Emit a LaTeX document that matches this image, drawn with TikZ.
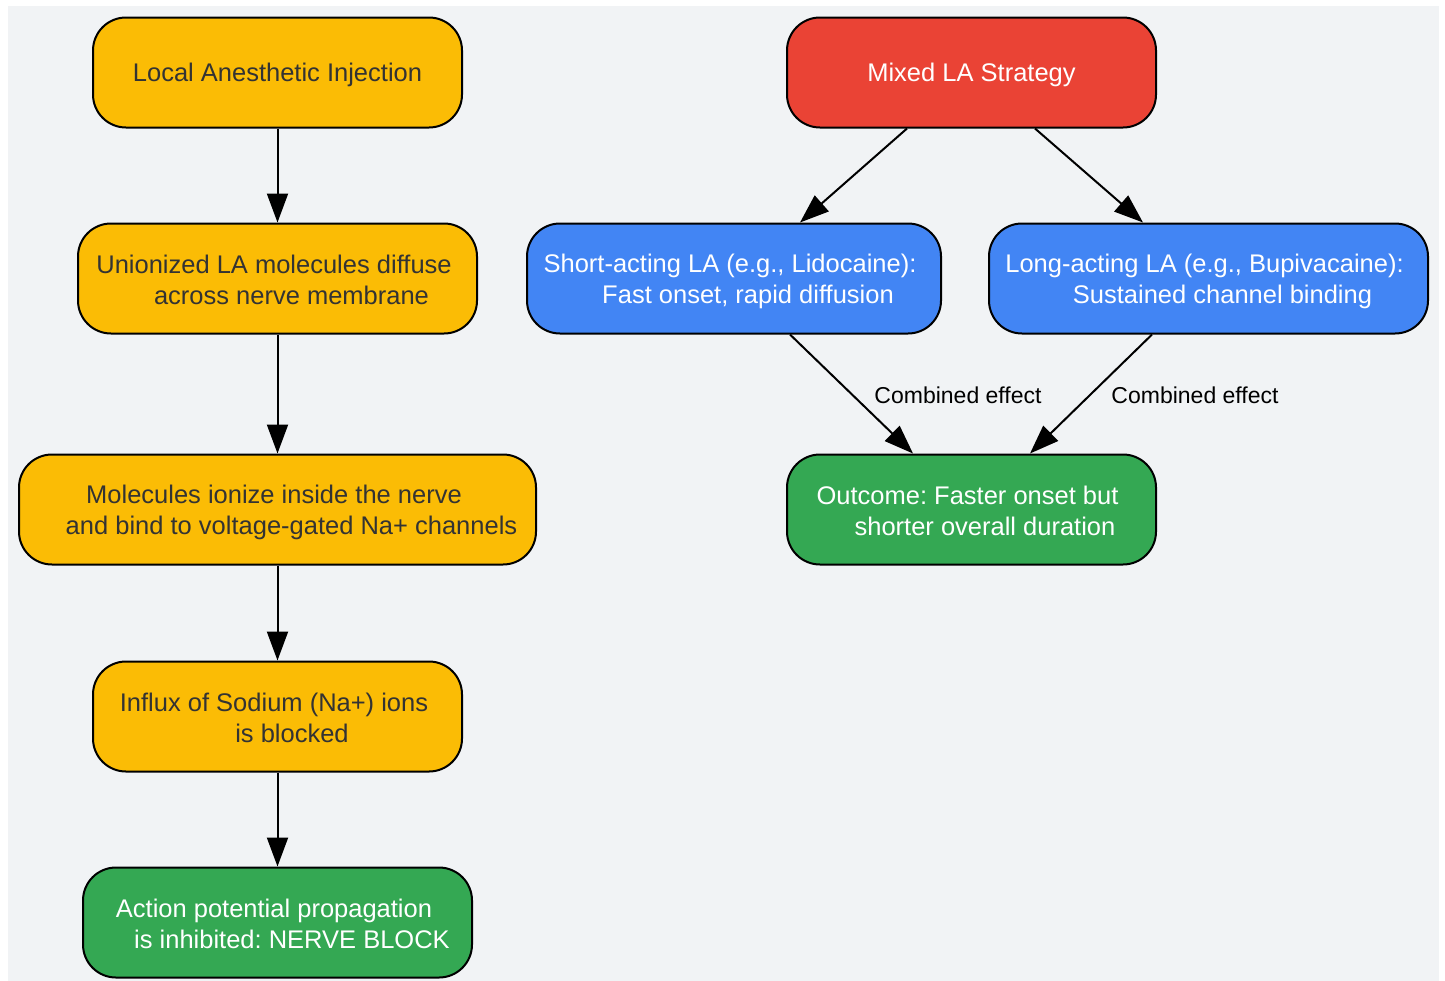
\documentclass[tikz,border=0pt]{standalone}
\usepackage{fontspec}
\setmainfont{Liberation Sans}
\frenchspacing
\usetikzlibrary{arrows.meta}
\definecolor{bgc}{RGB}{241,243,245}
\definecolor{yel}{HTML}{FBBC05}
\definecolor{redc}{HTML}{EA4335}
\definecolor{bluec}{HTML}{4285F4}
\definecolor{greenc}{HTML}{34A853}
\definecolor{tdark}{HTML}{333333}
\newcommand{\lineat}[2]{\makebox[0pt]{\hspace*{#1}\rule[-5pt]{0pt}{30pt}#2}}
\newcommand{\oneline}[1]{\rule[-8pt]{0pt}{33pt}#1}
\begin{document}
\begin{tikzpicture}[x=1pt,y=-1pt,
  box/.style={draw=black, line width=2pt, rounded corners=33pt, minimum height=110pt, inner sep=0pt, align=center, font=\fontsize{25.5}{31}\selectfont},
  ybox/.style={box, fill=yel, text=tdark},
  rbox/.style={box, fill=redc, text=white},
  bbox/.style={box, fill=bluec, text=white},
  gbox/.style={box, fill=greenc, text=white},
  arr/.style={-{Triangle[length=29pt,width=21pt]}, line width=2pt},
  lab/.style={font=\fontsize{23}{27}\selectfont, text=black, inner sep=0pt}
]
\useasboundingbox (0,0) rectangle (1445,980);
\fill[bgc] (8,6) rectangle (1439,985);

% left column
\node[ybox, minimum width=369pt] (inj) at (277.5,72.5) {\oneline{Local Anesthetic Injection}};
\node[ybox, minimum width=399pt] (union) at (277.5,278.5) {\lineat{-7pt}{Unionized LA molecules diffuse}\\\lineat{28pt}{across nerve membrane}};
\node[ybox, minimum width=517pt] (ionize) at (277.5,509.5) {\lineat{-7pt}{Molecules ionize inside the nerve}\\\lineat{28pt}{and bind to voltage-gated Na+ channels}};
\node[ybox, minimum width=369pt] (influx) at (277.5,716.5) {\lineat{-7pt}{Influx of Sodium (Na+) ions}\\\lineat{29pt}{is blocked}};
\node[gbox, minimum width=389pt] (block) at (277.5,922.5) {\lineat{-7pt}{Action potential propagation}\\\lineat{29pt}{is inhibited: NERVE BLOCK}};

% right part
\node[rbox, minimum width=369pt] (mix) at (971.5,72.5) {\oneline{Mixed LA Strategy}};
\node[bbox, minimum width=414pt] (short) at (734,278.5) {\lineat{-8pt}{Short-acting LA (e.g., Lidocaine):}\\\lineat{28pt}{Fast onset, rapid diffusion}};
\node[bbox, minimum width=439pt] (long) at (1208.5,278.5) {\lineat{-8pt}{Long-acting LA (e.g., Bupivacaine):}\\\lineat{28pt}{Sustained channel binding}};
\node[gbox, minimum width=369pt] (out) at (971.5,509.5) {\lineat{-8pt}{Outcome: Faster onset but}\\\lineat{27pt}{shorter overall duration}};

% arrows
\draw[arr] (inj) -- (union);
\draw[arr] (union) -- (ionize);
\draw[arr] (ionize) -- (influx);
\draw[arr] (influx) -- (block);
\draw[arr] ([xshift=-64.5pt]mix.south) -- ([xshift=66pt]short.north);
\draw[arr] ([xshift=63.5pt]mix.south) -- ([xshift=-65.5pt]long.north);
\draw[arr] ([xshift=56pt]short.south) -- ([xshift=-58.5pt]out.north);
\draw[arr] ([xshift=-56.5pt]long.south) -- ([xshift=58.5pt]out.north);

\node[lab] (lab1) at (958,395) {Combined effect};
\node[lab] (lab2) at (1195,395) {Combined effect};
\end{tikzpicture}
\end{document}
